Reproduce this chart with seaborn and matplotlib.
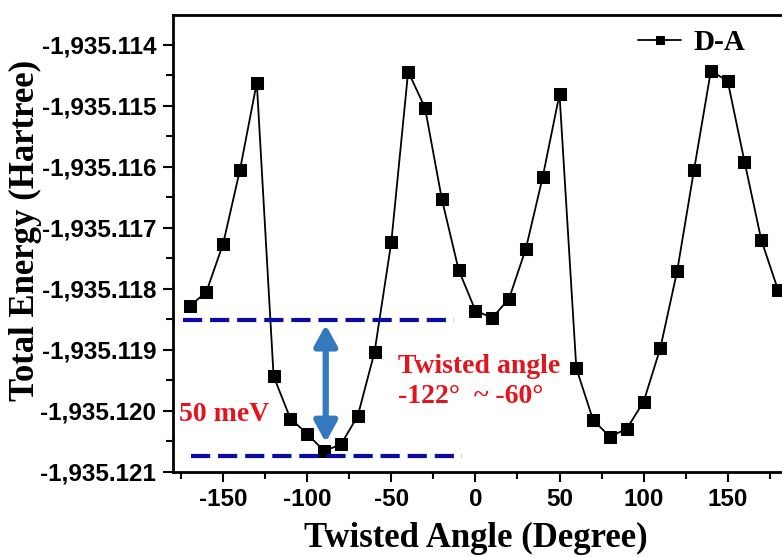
import numpy as np
import pandas as pd
import matplotlib
matplotlib.use("Agg")
import matplotlib.pyplot as plt
from matplotlib.ticker import FuncFormatter, MultipleLocator, AutoMinorLocator
import seaborn as sns

# ---- data ----
angles = [-170, -160, -150, -140, -130, -120, -110, -100, -90, -80, -70, -60,
          -50, -40, -30, -20, -10, 0, 10, 20, 30, 40, 50, 60, 70, 80, 90, 100,
          110, 120, 130, 140, 150, 160, 170, 180]
energy = [-1935.118287, -1935.118051, -1935.117260, -1935.116048, -1935.114618,
          -1935.119433, -1935.120131, -1935.120377, -1935.120662, -1935.120552,
          -1935.120089, -1935.119040, -1935.117232, -1935.114437, -1935.115027,
          -1935.116523, -1935.117686, -1935.118357, -1935.118477, -1935.118161,
          -1935.117342, -1935.116167, -1935.114808, -1935.119302, -1935.120154,
          -1935.120426, -1935.120295, -1935.119853, -1935.118968, -1935.117702,
          -1935.116048, -1935.114426, -1935.114590, -1935.115912, -1935.117199,
          -1935.118025]
series_label = "D-A"

x_ticks = [-150, -100, -50, 0, 50, 100, 150]
y_ticks = [-1935.121, -1935.120, -1935.119, -1935.118, -1935.117, -1935.116,
           -1935.115, -1935.114]

# annotation levels (dashed lines) and their x extents
level_high = -1935.118516
level_high_span = (-174, -12.5)
level_low = -1935.120744
level_low_span = (-169, -8)
arrow_x = -89
arrow_top = -1935.118589
arrow_bottom = -1935.120520

note_mev = "50 meV"
note_angle_1 = "Twisted angle"
note_angle_2 = "-122°  ~ -60°"

df = pd.DataFrame({"angle": angles, "energy": energy})

sns.set_theme(style="white")
plt.rcParams["font.family"] = ["Liberation Sans", "DejaVu Sans"]
plt.rcParams["axes.unicode_minus"] = False
plt.rcParams["text.color"] = "black"
plt.rcParams["axes.labelcolor"] = "black"
plt.rcParams["xtick.color"] = "black"
plt.rcParams["ytick.color"] = "black"

fig = plt.figure(figsize=(7.82, 5.57), dpi=100)
ax = fig.add_axes([172.7 / 782, 1 - 471.7 / 557, (782 - 172.7) / 782, (471.7 - 15) / 557])

sns.lineplot(data=df, x="angle", y="energy", ax=ax, color="black", marker="s",
             markersize=8, markeredgecolor="black", linewidth=1.3, label=series_label)

ax.set_xlim(-180, 182.3)
ax.set_ylim(-1935.121, -1935.113508)

# dashed blue levels
ax.hlines(level_high, *level_high_span, colors="#0a0aa5", linewidth=3,
          linestyles=[(0, (4.6, 1.9))])
ax.hlines(level_low, *level_low_span, colors="#0a0aa5", linewidth=3,
          linestyles=[(0, (4.6, 1.9))])

# double arrow
ax.annotate("", xy=(arrow_x, arrow_top), xytext=(arrow_x, arrow_bottom),
            arrowprops=dict(arrowstyle="<|-|>,head_length=0.62,head_width=0.34",
                            color="#3478be", lw=4.5, mutation_scale=20,
                            shrinkA=0, shrinkB=0))

red = "#e3141c"
serif_bold = dict(family=["Liberation Serif", "DejaVu Serif"], weight="bold")
ax.text(-176.4, -1935.120062, note_mev, color=red, fontsize=20, va="center",
        ha="left", **serif_bold)
ax.text(-46.3, -1935.119270, note_angle_1, color=red, fontsize=20, va="center",
        ha="left", **serif_bold)
ax.text(-46.3, -1935.119762, note_angle_2, color=red, fontsize=20, va="center",
        ha="left", **serif_bold)

# ticks
ax.set_xticks(x_ticks)
ax.set_yticks(y_ticks)
ax.xaxis.set_minor_locator(AutoMinorLocator(2))
ax.yaxis.set_minor_locator(AutoMinorLocator(2))
ax.yaxis.set_major_formatter(FuncFormatter(lambda v, p: f"{v:,.3f}"))
ax.tick_params(axis="both", which="major", direction="out", length=7, width=1.5,
               labelsize=17.5, pad=5, bottom=True, left=True, top=False, right=False,
               colors="black")
ax.tick_params(axis="both", which="minor", direction="out", length=5, width=1.5,
               bottom=True, left=True, top=False, right=False, colors="black")
for lab in ax.get_xticklabels() + ax.get_yticklabels():
    lab.set_fontweight("bold")
    lab.set_color("black")

for side in ["left", "bottom", "top"]:
    ax.spines[side].set_visible(True)
    ax.spines[side].set_linewidth(2)
    ax.spines[side].set_color("black")
ax.spines["right"].set_visible(False)

ax.set_xlabel("Twisted Angle (Degree)", fontsize=25, color="black", **serif_bold)
ax.set_ylabel("Total Energy (Hartree)", fontsize=25, color="black", **serif_bold)
ax.xaxis.set_label_coords((476 - 172.7) / 609.3, -(555 - 471.7) / 456.7)
ax.xaxis.label.set_va("bottom")
ax.yaxis.set_label_coords(-(172.7 - 42) / 609.3, (471.7 - 230) / 456.7)

leg = ax.legend(loc="upper right", bbox_to_anchor=((745 - 172.7) / 609.3, (471.7 - 29) / 456.7),
                frameon=False, borderpad=0, borderaxespad=0, handlelength=1.5,
                handletextpad=0.4, markerscale=0.75,
                prop=dict(family=["Liberation Serif"], weight="bold", size=21))
for t in leg.get_texts():
    t.set_color("black")

fig.savefig("out.png", dpi=100)
